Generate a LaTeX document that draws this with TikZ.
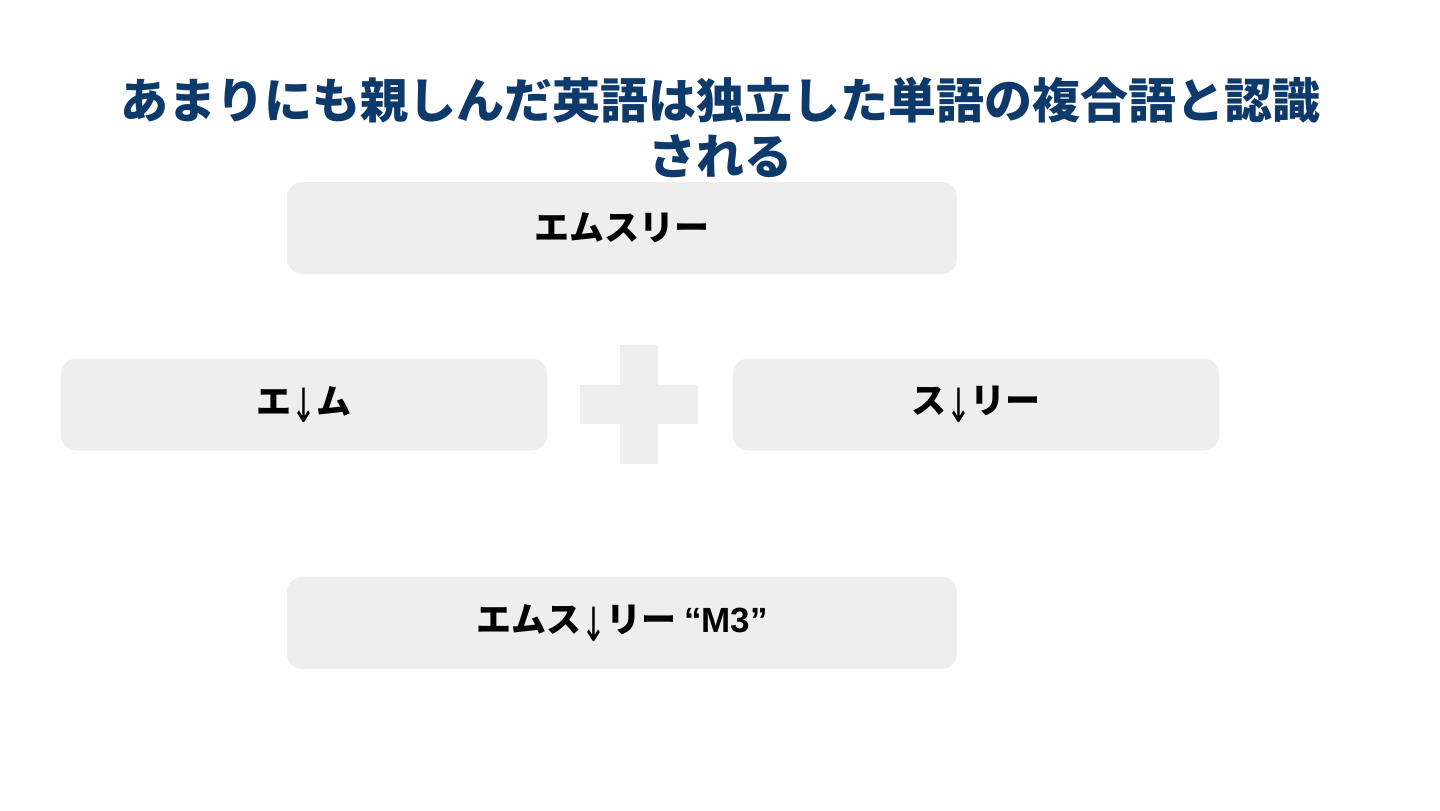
\documentclass[tikz,border=0pt]{standalone}
\usepackage{fontspec}
\newfontfamily\jpfont{Noto Sans CJK JP}
\newfontfamily\arrowfont{DejaVu Sans}
\newfontfamily\latinfont{Liberation Sans}
\definecolor{titleblue}{HTML}{0D3A6A}
\definecolor{boxgrey}{HTML}{EEEEEE}
\newcommand{\dn}{{\arrowfont\mdseries\raisebox{-0.45ex}{\scalebox{0.85}[1.35]{↓}}}}

\begin{document}
\begin{tikzpicture}[x=0.5pt,y=-0.5pt,inner sep=0pt,
				wordbox/.style={rounded corners=7.5pt,fill=boxgrey,minimum width=335pt,minimum height=46pt},
				halfbox/.style={wordbox,minimum width=243pt},
				wordtext/.style={font=\jpfont\bfseries\fontsize{17.5}{20}\selectfont,text=black},
				titletext/.style={font=\jpfont\bfseries\fontsize{24}{28}\selectfont,text=titleblue,align=center}]
				
				\useasboundingbox (0,0) rectangle (1440,810);
				
				\node at (720,127) [titletext] (title) {あまりにも親しんだ英語は独立した単語の複合語と認識\\される};
				
				\node at (622,228) [wordbox] (whole) {};
				\node at (304,404.5) [halfbox] (left) {};
				\node at (976,404.5) [halfbox] (right) {};
				\node at (622,623) [wordbox] (joined) {};
				
				\fill[boxgrey] (620,345) rectangle (658,464);
				\fill[boxgrey] (580,385) rectangle (698,424);
				
				\node at (whole) [wordtext] (wholetext) {エムスリー};
				\node at (left) [wordtext] (lefttext) {エ\dn ム};
				\node at (right) [wordtext] (righttext) {ス\dn リー};
				\node at (joined) [wordtext] (joinedtext) {エムス\dn リー {\latinfont\bfseries “M3”}};
				
			\end{tikzpicture}
\end{document}
